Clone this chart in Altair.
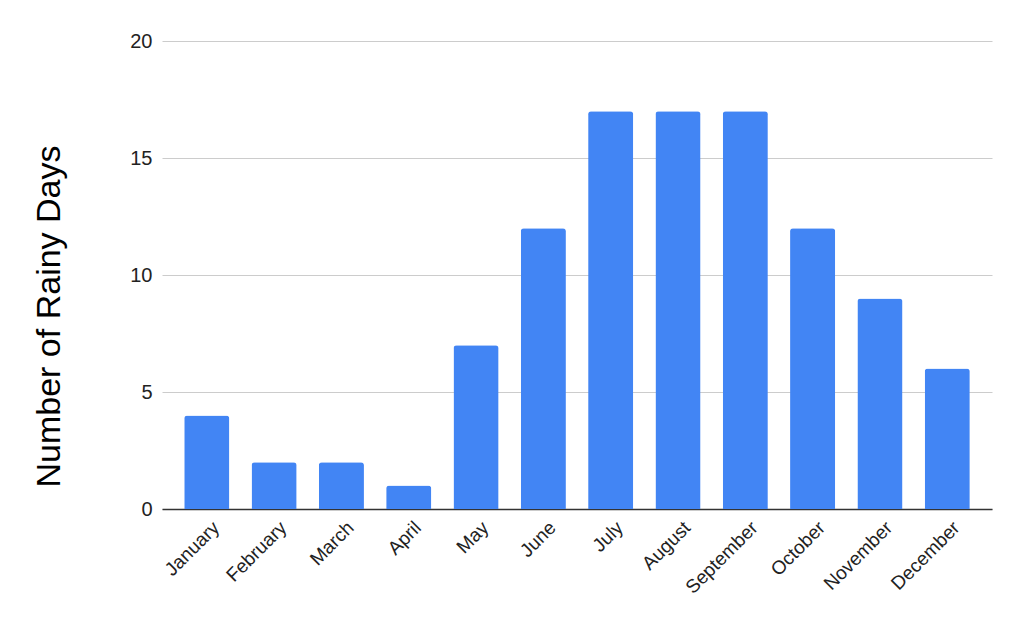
import altair as alt
import pandas as pd

months = ["January", "February", "March", "April", "May", "June", "July",
          "August", "September", "October", "November", "December"]
rainy_days = [4, 2, 2, 1, 7, 12, 17, 17, 17, 12, 9, 6]
y_ticks = [0, 5, 10, 15, 20]

df = pd.DataFrame({"Month": months, "Days": rainy_days})

chart = alt.Chart(df).mark_bar(
    color="#4285F4", cornerRadiusTopLeft=3, cornerRadiusTopRight=3
).encode(
    x=alt.X("Month:N", sort=months,
            scale=alt.Scale(paddingInner=0.33, paddingOuter=0.33),
            axis=alt.Axis(title=None, labelAngle=-45, labelFontSize=19,
                          labelFont="Liberation Sans", labelColor="#222222",
                          ticks=False, domainColor="#333333", domainWidth=1.5,
                          labelPadding=9, labelOffset=3)),
    y=alt.Y("Days:Q", scale=alt.Scale(domain=[0, 20]),
            axis=alt.Axis(values=y_ticks, title="Number of Rainy Days",
                          titleFont="Liberation Sans", titleFontSize=34,
                          titleFontWeight="normal", titleColor="#000000",
                          titleX=-113, titleY=275, titleAngle=-90,
                          titleAlign="center", titleBaseline="middle",
                          labelFont="Liberation Sans", labelFontSize=20,
                          labelColor="#222222", labelPadding=10,
                          ticks=False, domain=False, gridColor="#cccccc",
                          gridWidth=1)),
).properties(
    width=830, height=468,
    autosize=alt.AutoSizeParams(type="none"),
    padding={"left": 154, "top": 33, "right": 20, "bottom": 110},
).configure_view(stroke=None)

chart.save("out.html", embed_options={"renderer": "svg", "actions": False})
